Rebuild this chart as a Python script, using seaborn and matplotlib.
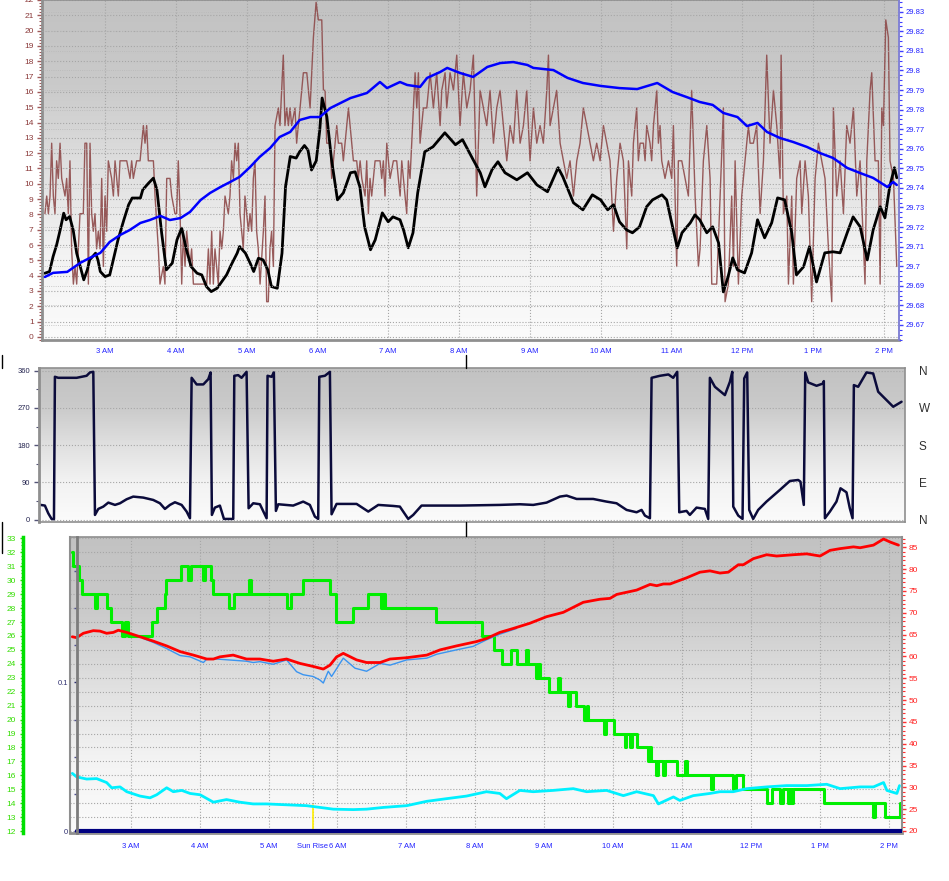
import numpy as np
import matplotlib
matplotlib.use("Agg")
import matplotlib.pyplot as plt
import seaborn as sns
from matplotlib.colors import LinearSegmentedColormap
from matplotlib.lines import Line2D
from matplotlib.ticker import MultipleLocator, FixedLocator, FixedFormatter, FuncFormatter

# times are minutes after midnight

## top panel: wind gust (mph), average wind (mph), barometer (inHg)
gust = [
    (129.1, 8.05), (130.6, 9.2), (132.0, 8.05), (133.4, 9.2), (134.8, 12.65), (136.2, 9.2), (137.6, 8.05),
    (139.0, 11.5), (140.4, 10.35), (141.9, 12.65), (143.3, 10.35), (146.1, 9.2), (147.5, 10.35), (148.9, 8.05),
    (150.3, 11.5), (151.7, 5.75), (153.2, 3.45), (154.6, 4.6), (156.0, 3.45), (157.4, 5.75), (158.8, 8.05),
    (161.6, 8.05), (163.0, 12.65), (164.5, 12.65), (165.9, 3.45), (167.3, 12.65), (168.7, 8.05), (170.1, 6.9),
    (171.5, 8.05), (172.9, 5.75), (174.3, 6.9), (175.8, 5.75), (177.2, 10.35), (178.6, 4.6), (180.0, 9.2),
    (181.4, 6.9), (182.8, 11.5), (185.6, 10.35), (187.1, 9.2), (188.5, 11.5), (189.9, 10.35), (191.3, 9.2),
    (192.7, 11.5), (198.4, 11.5), (201.2, 10.35), (202.6, 11.5), (204.0, 10.35), (206.8, 11.5), (209.7, 11.5),
    (211.1, 12.65), (212.5, 13.8), (213.9, 12.65), (215.3, 13.8), (216.7, 11.5), (221.0, 11.5), (222.4, 9.2),
    (225.2, 5.75), (226.6, 3.45), (229.4, 4.6), (230.8, 3.45), (232.3, 10.35), (235.1, 10.35), (236.5, 9.2),
    (239.3, 8.05), (240.7, 8.05), (242.1, 11.5), (243.6, 8.05), (245.0, 3.45), (246.4, 6.9), (247.8, 4.6),
    (249.2, 6.9), (250.6, 5.75), (252.0, 4.6), (253.4, 5.75), (254.9, 3.45), (266.2, 3.45), (267.6, 5.75),
    (269.0, 3.45), (270.4, 6.9), (271.8, 3.45), (273.2, 5.75), (276.0, 3.45), (277.5, 6.9), (278.9, 5.75),
    (280.3, 6.9), (281.7, 9.2), (284.5, 8.05), (285.9, 9.2), (287.3, 11.5), (288.8, 10.35), (290.2, 12.65),
    (291.6, 11.5), (293.0, 12.65), (294.4, 8.05), (295.8, 6.9), (297.2, 5.75), (298.6, 9.2), (300.1, 8.05),
    (301.5, 6.9), (302.9, 8.05), (304.3, 6.9), (305.7, 10.35), (307.1, 11.5), (308.5, 6.9), (309.9, 5.75),
    (311.4, 3.45), (314.2, 6.9), (315.6, 9.2), (317.0, 2.3), (318.4, 2.3), (319.8, 5.75), (321.2, 6.9),
    (322.7, 4.6), (324.1, 13.8), (326.9, 14.95), (328.3, 13.8), (329.7, 16.1), (331.1, 18.4), (332.5, 13.8),
    (334.0, 14.95), (335.4, 13.8), (336.8, 14.95), (338.2, 13.8), (341.0, 14.95), (342.4, 12.65), (343.8, 13.8),
    (345.3, 14.95), (348.1, 17.25), (351.0, 17.25), (353.8, 14.95), (356.6, 19.55), (358.9, 21.85), (360.8, 20.7),
    (363.7, 20.7), (365.1, 16.1), (366.5, 16.1), (367.9, 12.65), (370.7, 12.65), (372.1, 10.35), (373.6, 11.5),
    (376.4, 13.8), (377.8, 12.65), (380.6, 12.65), (382.0, 11.5), (384.9, 13.8), (386.3, 14.95), (387.7, 13.8),
    (390.5, 11.5), (393.3, 11.5), (394.7, 10.35), (396.2, 11.5), (397.6, 10.35), (400.4, 9.2), (401.8, 11.5),
    (403.2, 8.05), (404.6, 10.35), (406.0, 9.2), (408.9, 11.5), (413.1, 11.5), (414.5, 10.35), (415.9, 11.5),
    (417.3, 9.2), (418.8, 12.65), (420.2, 11.5), (421.6, 10.35), (424.4, 11.5), (427.2, 11.5), (428.6, 10.35),
    (430.1, 9.2), (431.5, 11.5), (432.9, 10.35), (435.7, 8.05), (437.1, 11.5), (438.5, 10.35), (442.8, 17.25),
    (444.2, 14.95), (445.6, 17.25), (447.0, 12.65), (448.4, 13.8), (449.8, 14.95), (452.7, 14.95), (455.5, 17.25),
    (458.3, 14.95), (461.1, 17.25), (464.0, 13.8), (465.4, 16.1), (468.2, 17.25), (469.6, 14.95), (472.4, 17.25),
    (475.3, 16.1), (478.1, 18.4), (480.9, 13.8), (483.7, 17.25), (486.6, 14.95), (489.4, 16.1), (492.2, 18.4),
    (495.0, 9.2), (497.9, 16.1), (500.7, 14.95), (503.5, 13.8), (506.3, 16.1), (509.2, 12.65), (512.0, 14.95),
    (514.8, 16.1), (517.6, 13.8), (520.5, 11.5), (523.3, 13.8), (526.1, 12.65), (528.9, 16.1), (531.8, 12.65),
    (534.6, 13.8), (537.4, 16.1), (540.2, 11.5), (543.1, 14.95), (545.9, 12.65), (548.7, 13.8), (551.5, 12.65),
    (554.4, 16.1), (555.8, 18.4), (557.2, 13.8), (560.0, 14.95), (562.8, 16.1), (565.7, 12.65), (568.5, 11.5),
    (571.3, 10.35), (574.1, 11.5), (577.0, 9.2), (579.8, 11.5), (582.6, 12.65), (585.4, 14.95), (588.3, 13.8),
    (591.1, 12.65), (593.9, 11.5), (596.7, 12.65), (599.6, 11.5), (602.4, 13.8), (605.2, 12.65), (608.0, 11.5),
    (610.9, 6.9), (613.7, 10.35), (616.5, 12.65), (619.3, 11.5), (622.2, 5.75), (623.6, 11.5), (626.4, 9.2),
    (627.8, 12.65), (630.6, 14.95), (632.0, 11.5), (633.5, 12.65), (636.3, 12.65), (637.7, 11.5), (639.1, 13.8),
    (641.9, 12.65), (643.3, 11.5), (644.8, 13.8), (647.6, 16.1), (649.0, 12.65), (650.4, 13.8), (651.8, 11.5),
    (654.6, 10.35), (657.5, 11.5), (660.3, 10.35), (661.7, 13.8), (664.5, 4.6), (665.9, 11.5), (668.8, 11.5),
    (671.6, 10.35), (674.4, 9.2), (677.2, 16.1), (680.1, 9.2), (682.9, 4.6), (684.3, 5.75), (687.1, 11.5),
    (690.0, 13.8), (692.8, 10.35), (694.2, 3.45), (698.4, 3.45), (701.3, 9.2), (704.1, 14.95), (705.5, 2.3),
    (708.3, 3.45), (711.1, 9.2), (712.6, 4.6), (714.0, 11.5), (716.8, 3.45), (719.6, 9.2), (722.4, 11.5),
    (725.3, 13.8), (726.7, 12.65), (729.5, 12.65), (732.3, 13.8), (735.2, 8.05), (738.0, 11.5), (740.8, 18.4),
    (743.6, 12.65), (746.5, 16.1), (749.3, 13.8), (752.1, 10.35), (753.0, 18.4), (754.9, 8.05), (757.8, 9.2),
    (759.2, 3.45), (762.0, 9.2), (763.4, 3.45), (766.2, 10.35), (769.1, 11.5), (770.5, 8.05), (773.3, 11.5),
    (776.1, 9.2), (778.9, 2.3), (781.8, 10.35), (784.6, 12.65), (787.4, 11.5), (790.2, 10.35), (793.1, 5.75),
    (795.9, 2.3), (797.3, 14.95), (800.1, 9.2), (803.0, 11.5), (805.8, 8.05), (808.6, 13.8), (811.4, 12.65),
    (814.3, 14.95), (817.1, 9.2), (819.9, 11.5), (824.1, 3.45), (825.6, 11.5), (828.4, 16.1), (829.8, 17.25),
    (832.6, 11.5), (835.4, 11.5), (836.9, 3.45), (838.3, 14.95), (839.7, 13.8), (841.7, 20.7), (843.9, 19.55),
    (845.3, 11.5), (848.2, 10.35), (851.0, 4.6),
]

wind = [
    (129, 4.16), (133, 4.27), (136, 5.25), (139, 6.01), (142, 6.99), (145, 8.08), (147, 7.65), (150, 7.86),
    (153, 6.99), (156, 5.47), (159, 4.59), (162, 3.73), (165, 4.38), (167, 5.03), (172, 5.47), (174, 5.03),
    (176, 4.27), (180, 3.94), (184, 4.05), (187, 5.03), (191, 6.34), (196, 7.65), (200, 8.63), (203, 9.07),
    (210, 9.07), (212, 9.61), (217, 10.05), (221, 10.37), (224, 9.61), (228, 6.78), (232, 4.38), (237, 4.82),
    (241, 6.34), (245, 7.10), (249, 5.69), (253, 4.59), (258, 4.16), (262, 4.05), (266, 3.29), (270, 2.96),
    (275, 3.18), (279, 3.61), (283, 4.05), (287, 4.71), (292, 5.47), (294, 5.90), (299, 5.47), (303, 4.82),
    (306, 4.27), (310, 5.14), (314, 5.03), (318, 4.38), (321, 3.29), (326, 3.18), (330, 5.47), (333, 9.82),
    (337, 11.78), (342, 11.68), (345, 12.1), (349, 12.5), (352, 12.2), (355, 10.9), (359, 11.5), (362, 13.5),
    (364, 15.6), (368, 14.38), (372, 11.57), (377, 8.95), (382, 9.41), (388, 10.72), (392, 10.78), (396, 9.80),
    (400, 7.19), (405, 5.69), (409, 6.34), (415, 8.10), (420, 7.52), (424, 7.84), (430, 7.65), (433, 6.99),
    (437, 5.82), (441, 6.80), (445, 9.41), (451, 12.09), (458, 12.42), (468, 13.33), (477, 12.55), (483, 12.88),
    (492, 11.57), (498, 10.72), (502, 9.80), (508, 10.92), (513, 11.44), (519, 10.72), (529, 10.26), (538, 10.72),
    (546, 9.93), (555, 9.48), (564, 11.05), (568, 10.46), (577, 8.76), (585, 8.30), (593, 9.28), (600, 8.95),
    (606, 8.30), (611, 8.63), (616, 7.52), (622, 6.99), (627, 6.80), (633, 7.19), (639, 8.50), (644, 8.95),
    (652, 9.28), (656, 8.95), (661, 7.19), (665, 5.82), (669, 6.80), (676, 7.45), (680, 7.97), (684, 7.65),
    (690, 6.80), (695, 7.19), (700, 6.14), (704, 2.94), (708, 3.92), (712, 5.16), (716, 4.38), (722, 4.18),
    (728, 5.49), (733, 7.65), (739, 6.47), (745, 7.45), (750, 9.08), (756, 8.95), (762, 6.80), (766, 4.05),
    (772, 4.58), (777, 5.88), (783, 3.59), (790, 5.49), (797, 5.56), (803, 5.49), (809, 6.80), (814, 7.84),
    (820, 7.19), (826, 5.03), (831, 6.99), (837, 8.50), (841, 7.78), (845, 9.80), (849, 11.05), (851, 10.39),
]

baro = [
    (129, 29.6945), (136, 29.6966), (148, 29.6971), (159, 29.7017), (167, 29.7042), (176, 29.7068),
    (184, 29.7124), (193, 29.7160), (201, 29.7185), (210, 29.7221), (218, 29.7236), (227, 29.7257),
    (235, 29.7236), (244, 29.7246), (252, 29.7277), (261, 29.7338), (269, 29.7374), (278, 29.7405),
    (286, 29.7430), (294, 29.7456), (303, 29.7507), (311, 29.7558), (320, 29.7604), (328, 29.7660),
    (337, 29.7686), (345, 29.7747), (354, 29.7762), (362, 29.7762), (371, 29.7808), (388, 29.7859),
    (402, 29.7885), (413, 29.7941), (419, 29.7910), (430, 29.7941), (436, 29.7926), (447, 29.7916),
    (453, 29.7962), (464, 29.7992), (470, 29.8013), (481, 29.7987), (492, 29.7967), (504, 29.8018),
    (515, 29.8038), (526, 29.8043), (538, 29.8028), (543, 29.8013), (560, 29.8002), (572, 29.7962),
    (585, 29.7936), (600, 29.7921), (616, 29.7910), (631, 29.7905), (648, 29.7936), (661, 29.7890),
    (673, 29.7864), (684, 29.7839), (695, 29.7824), (704, 29.7783), (716, 29.7762), (724, 29.7716),
    (733, 29.7732), (741, 29.7686), (752, 29.7655), (763, 29.7635), (775, 29.7609), (786, 29.7578),
    (797, 29.7553), (809, 29.7502), (820, 29.7476), (831, 29.7451), (843, 29.7405), (848, 29.7430),
    (851, 29.7415),
]

## middle panel: wind direction (degrees)
wind_dir = [
    (127.7, 35.6), (131.3, 34), (134.1, 15.4), (136.9, 1.7), (138.9, 1), (139.7, 345.5), (142.5, 343),
    (157.9, 343), (160.7, 344.7), (166.3, 347.9), (169.1, 356), (171.9, 357.5), (173.3, 11.4), (176.1, 25.9),
    (180.3, 31.5), (184.5, 41.2), (190.1, 35.6), (194.3, 39.6), (199.8, 49.2), (205.4, 55.7), (213.8, 53.3),
    (222.2, 47.6), (227.8, 39.6), (232.0, 25.9), (236.2, 35.6), (240.4, 42), (246.0, 35.6), (250.2, 19.5),
    (253.0, 3.3), (254.4, 343), (258.6, 327), (264.2, 327), (268.4, 339.8), (270.3, 356), (271.4, 11.4),
    (273.9, 29.1), (278.1, 34), (281.5, 1.7), (289.3, 1.7), (290.2, 347.9), (293.5, 349.5), (296.3, 343),
    (300.5, 357.5), (302.2, 27.5), (306.1, 39.6), (311.7, 37.2), (317.3, 3.3), (318.1, 347.9), (321.5, 345.5),
    (323.4, 356), (325.1, 21.1), (327.1, 37.2), (339.6, 34), (348.0, 43.6), (353.6, 35.6), (357.8, 7.4),
    (360.6, 1.7), (361.5, 345.5), (366.2, 347.9), (370.4, 357.5), (371.8, 13), (376.0, 38), (392.8, 38),
    (402.6, 19.5), (411.0, 35.6), (423.5, 33.1), (429.1, 31.5), (436.1, 1.7), (440.3, 11.4), (447.3, 34),
    (479.5, 34), (513.0, 35.6), (529.8, 37.2), (541.0, 35.6), (552.2, 41.2), (563.4, 55.7), (569.0, 58.1),
    (577.4, 50), (591.3, 50), (602.5, 43.6), (610.9, 39.6), (619.3, 23.5), (627.7, 17.8), (631.9, 23.5),
    (634.7, 9.8), (638.9, 3.3), (640.3, 343), (647.3, 347.9), (654.4, 351.1), (658.4, 343), (661.8, 357.5),
    (663.5, 17.8), (669.6, 21.1), (672.4, 11.4), (678.0, 29.1), (685.0, 25.9), (687.8, 1.7), (689.2, 343),
    (693.4, 321.3), (701.8, 301.2), (706.0, 333.4), (708.0, 357.5), (708.8, 31.5), (713.0, 9.8), (716.6, 1.7),
    (718.0, 341.5), (720.5, 356), (722.2, 23.5), (725.5, 1.7), (729.7, 23.5), (736.7, 43.6), (747.9, 71.8),
    (756.3, 93.5), (763.3, 95.9), (765.2, 91.9), (768.0, 35.6), (769.2, 356), (771.7, 331.8), (778.7, 323.7),
    (784.3, 329.4), (784.8, 335), (785.7, 3.3), (789.9, 19.5), (795.4, 43.6), (798.8, 75.8), (803.8, 66.1),
    (806.6, 27.5), (808.9, 3.3), (810.0, 325.4), (813.6, 321.3), (820.6, 356), (826.2, 353.5), (830.4, 309.3),
    (836.0, 293.2), (843.0, 273), (850.0, 285.1),
]

## bottom panel: green series (left scale, stepped), temperature, heat index, dew point, rain
green_steps = [
    (129.1, 32), (130.1, 31), (134.6, 30), (137.5, 29), (149.1, 28), (150.6, 29), (159.6, 28), (162.6, 27),
    (172.1, 26), (174.6, 27), (177.6, 26), (198.6, 27), (202.6, 28), (209.6, 29), (211.1, 30), (224.1, 31),
    (229.6, 30), (232.1, 31), (242.6, 30), (244.6, 31), (250.1, 30), (251.6, 29), (265.3, 28), (270.3, 29),
    (282.8, 30), (284.3, 29), (315.8, 28), (319.8, 29), (329.8, 30), (353.3, 29), (358.8, 27), (373.3, 28),
    (386.3, 29), (397.8, 28), (399.8, 29), (401.3, 28), (445.8, 27), (486.0, 26), (496.5, 25), (503.5, 24),
    (511.5, 25), (516.5, 24), (524.5, 25), (526.0, 24), (533.0, 23), (534.5, 24), (536.0, 23), (544.5, 22),
    (552.5, 23), (554.0, 22), (560.5, 21), (562.5, 22), (567.5, 21), (575.0, 20), (577.0, 21), (578.0, 20),
    (592.5, 19), (594.0, 20), (601.0, 19), (610.0, 18), (611.5, 19), (615.0, 18), (616.5, 19), (620.5, 18),
    (630.5, 17), (632.0, 18), (633.5, 17), (637.5, 16), (639.5, 17), (643.5, 16), (645.5, 17), (655.3, 16),
    (662.3, 17), (664.0, 16), (685.3, 15), (687.3, 16), (704.7, 15), (707.3, 16), (713.3, 15), (733.8, 14),
    (738.3, 15), (745.3, 14), (748.3, 15), (752.3, 14), (754.3, 15), (755.3, 14), (757.0, 15), (783.8, 14),
    (826.0, 13), (828.3, 14), (837.0, 13), (849.5, 14), (851.4, 14),
]

temperature = [
    (129.1, 64.5), (132.9, 64.3), (138.7, 65.3), (147.4, 65.9), (153.2, 65.8), (159.0, 65.3), (164.8, 65.5),
    (169.2, 66.0), (176.5, 65.5), (188.1, 64.5), (199.7, 63.5), (211.3, 62.4), (223.0, 61.1), (234.6, 60.3),
    (246.2, 59.4), (252.0, 59.4), (257.6, 59.9), (269.2, 60.3), (280.8, 59.4), (292.4, 59.4), (304.1, 58.9),
    (315.7, 59.4), (327.3, 58.4), (338.9, 57.7), (347.7, 57.1), (353.5, 58.0), (359.3, 59.9), (365.1, 60.7),
    (376.7, 59.2), (385.4, 58.6), (397.1, 58.6), (405.8, 59.4), (420.3, 59.7), (437.8, 60.3), (449.4, 61.5),
    (463.6, 62.4), (481.1, 63.4), (489.8, 64.1), (501.4, 65.5), (513.0, 66.4), (527.6, 67.6), (542.1, 69.1),
    (556.7, 70.1), (574.1, 72.4), (588.6, 73.1), (597.4, 73.3), (603.2, 74.2), (620.6, 75.2), (632.3, 76.5),
    (638.1, 76.2), (643.9, 76.6), (649.7, 76.6), (664.0, 78.0), (675.7, 79.3), (684.4, 79.6), (693.1, 79.1),
    (700.4, 79.3), (709.1, 81.0), (713.5, 81.0), (722.2, 82.4), (733.8, 83.3), (742.5, 83.0), (757.1, 83.3),
    (768.7, 83.5), (780.3, 83.0), (789.0, 84.3), (797.8, 84.7), (809.4, 85.1), (815.2, 84.9), (826.8, 85.5),
    (835.6, 86.9), (841.4, 86.2), (848.6, 85.5),
]

heat_index = [
    (191.0, 64.1), (199.7, 63.2), (211.3, 61.8), (223.0, 60.2), (231.7, 59.9), (243.3, 58.6), (246.2, 59.4),
    (254.6, 59.4), (280.8, 58.9), (286.6, 58.6), (292.4, 58.8), (304.1, 58.2), (315.7, 59.2), (324.4, 56.5),
    (330.2, 55.8), (338.9, 55.4), (344.7, 54.6), (347.7, 53.9), (352.0, 56.6), (354.9, 55.4), (365.1, 59.6),
    (375.3, 57.3), (385.4, 56.6), (397.1, 58.4), (405.8, 58.0), (420.3, 59.2), (437.8, 59.6), (446.5, 60.5),
    (463.6, 61.5), (478.2, 62.3), (489.8, 63.8), (501.4, 65.1), (516.0, 66.4),
]

dew_point = [
    (129.1, 33.2), (132.9, 32.4), (141.6, 31.9), (150.3, 32.0), (159.0, 31.1), (163.4, 29.9), (170.7, 30.1),
    (176.5, 29.0), (188.1, 28.0), (196.8, 27.6), (202.6, 28.3), (211.3, 29.9), (217.1, 29.0), (224.4, 29.3),
    (231.7, 28.6), (240.4, 28.3), (252.0, 26.6), (263.4, 27.2), (275.0, 26.6), (286.6, 26.2), (298.3, 26.2),
    (315.7, 26.0), (333.1, 25.8), (344.8, 25.4), (356.4, 25.0), (373.8, 24.9), (385.4, 25.0), (400.0, 25.4),
    (420.3, 25.8), (437.8, 26.8), (454.9, 27.4), (472.4, 28.0), (489.8, 29.0), (501.4, 28.6), (507.2, 27.4),
    (518.9, 29.3), (530.5, 29.0), (547.9, 29.3), (565.4, 29.7), (577.0, 29.0), (594.4, 29.3), (609.0, 28.1),
    (620.6, 29.0), (635.2, 28.1), (639.5, 26.2), (652.6, 27.8), (658.2, 27.0), (669.9, 28.1), (684.4, 28.6),
    (693.1, 29.0), (704.7, 29.0), (716.4, 29.7), (733.8, 30.1), (751.3, 30.4), (768.7, 30.4), (786.1, 30.7),
    (797.8, 29.7), (815.2, 30.1), (826.8, 30.1), (835.6, 31.1), (838.5, 29.3), (847.2, 28.6), (849.5, 30.4),
]

rain = [(133.2, 0.0), (851.4, 0.0)]
sunrise = 338.7

hour_ticks = [180, 240, 300, 360, 420, 480, 540, 600, 660, 720, 780, 840]
hour_labels = ["3 AM", "4 AM", "5 AM", "6 AM", "7 AM", "8 AM", "9 AM", "10 AM", "11 AM", "12 PM", "1 PM", "2 PM"]
dir_ticks = [0, 90, 180, 270, 360]
dir_labels = ["N", "E", "S", "W", "N"]

sns.set_style("white")
plt.rcParams["font.family"] = ["Liberation Sans", "DejaVu Sans"]

W, H = 949, 881
fig = plt.figure(figsize=(W / 100, H / 100), dpi=100)


def px_box(left, top, right, bottom):
    return [left / W, 1 - bottom / H, (right - left) / W, (bottom - top) / H]


bg_cmap = LinearSegmentedColormap.from_list(
    "panel_bg", ["#fbfbfb", "#f3f3f3", "#e0e0e0", "#cacaca", "#c2c2c2"])


def add_background(ax):
    x0, x1 = ax.get_xlim()
    y0, y1 = ax.get_ylim()
    ax.imshow(np.linspace(0, 1, 256).reshape(-1, 1), cmap=bg_cmap, origin="lower",
              extent=[x0, x1, y0, y1], aspect="auto", zorder=-5, interpolation="bilinear")
    ax.set_xlim(x0, x1)
    ax.set_ylim(y0, y1)


def draw(ax, pairs, color, lw, **kw):
    xs, ys = zip(*pairs)
    sns.lineplot(x=list(xs), y=list(ys), ax=ax, color=color, linewidth=lw,
                 estimator=None, sort=False, legend=False, **kw)
    ax.set_xlabel("")
    ax.set_ylabel("")


grid_kw = dict(color="#a6a6a6", linestyle=":", linewidth=0.8)

# ---- top panel
ax1 = fig.add_axes(px_box(42, 0, 899, 340))
draw(ax1, gust, "#8e4a4a", 1.0, alpha=0.9)
draw(ax1, wind, "black", 2.0)
ax1.set_xlim(126.6, 852.9)
ax1.set_ylim(-0.2, 22)
add_background(ax1)
ax1.set_axisbelow(True)
ax1.grid(True, which="major", **grid_kw)

ax1b = ax1.twinx()
ax1b.grid(True, axis="y", color="#b8b8b8", linestyle=":", linewidth=0.6)
draw(ax1b, baro, "#0000ff", 1.8)
ax1b.set_ylim(29.6623, 29.836)

ax1.xaxis.set_major_locator(FixedLocator(hour_ticks))
ax1.xaxis.set_major_formatter(FixedFormatter(hour_labels))
ax1.xaxis.set_minor_locator(MultipleLocator(15))
ax1.tick_params(axis="x", which="major", length=3.5, width=1, color="#8c8c8c",
                labelcolor="#2222ff", labelsize=5.5, pad=2.5)
ax1.tick_params(axis="x", which="minor", length=2, width=1, color="#8c8c8c")
ax1.yaxis.set_major_locator(MultipleLocator(1))
ax1.yaxis.set_minor_locator(MultipleLocator(0.2))
ax1.tick_params(axis="y", which="major", length=3.5, width=1, color="#a05a5a",
                labelcolor="#8b3a3a", labelsize=6, pad=2.5)
ax1.tick_params(axis="y", which="minor", length=2, width=0.8, color="#a05a5a")
ax1b.yaxis.set_major_locator(MultipleLocator(0.01))
ax1b.yaxis.set_minor_locator(MultipleLocator(0.0025))
ax1b.yaxis.set_major_formatter(FuncFormatter(lambda v, p: f"{v:g}"))
ax1b.tick_params(axis="y", which="major", length=3, width=1, color="#4040ff",
                 labelcolor="#2222ff", labelsize=5.5, pad=2)
ax1b.tick_params(axis="y", which="minor", length=2, width=0.8, color="#4040ff")
for name, sp in ax1.spines.items():
    sp.set_color("#8f8f8f")
    sp.set_linewidth(2 if name in ("left", "bottom") else 1.2)
for name, sp in ax1b.spines.items():
    sp.set_visible(name == "right")
ax1b.spines["right"].set_color("#8080e0")
ax1b.spines["right"].set_linewidth(1.2)

# ---- middle panel
ax2 = fig.add_axes(px_box(39.3, 368.3, 905, 521.7))
draw(ax2, wind_dir, "#0b0b3b", 1.8)
ax2.set_xlim(126.6, 852.9)
ax2.set_ylim(-5, 366)
add_background(ax2)
ax2.set_axisbelow(True)
ax2.set_yticks(dir_ticks)
ax2.yaxis.set_minor_locator(MultipleLocator(45))
ax2.grid(True, axis="y", **grid_kw)
ax2.tick_params(axis="x", which="both", bottom=False, labelbottom=False)
ax2.tick_params(axis="y", which="major", length=3.5, width=1, color="#555577",
                labelcolor="#252550", labelsize=5.5, pad=3)
ax2.tick_params(axis="y", which="minor", length=2, width=0.8, color="#555577")
for name, sp in ax2.spines.items():
    sp.set_color("#8f8f8f")
    sp.set_linewidth(2 if name == "left" else 1.2)

ax2b = ax2.twinx()
ax2b.set_ylim(-5, 366)
ax2b.set_yticks(dir_ticks, dir_labels)
ax2b.tick_params(axis="y", length=0, labelsize=8.5, labelcolor="#303030", pad=10)
for sp in ax2b.spines.values():
    sp.set_visible(False)

# ---- bottom panel
ax3 = fig.add_axes(px_box(70, 536.7, 901.7, 833.3))
draw(ax3, green_steps, "#00ee00", 2.2, drawstyle="steps-post")
ax3.set_xlim(127.1, 851.4)
ax3.set_ylim(11.84, 33.12)
add_background(ax3)
ax3.set_axisbelow(True)
bot_ticks = hour_ticks[:3] + [sunrise] + hour_ticks[3:]
bot_labels = hour_labels[:3] + ["Sun Rise"] + hour_labels[3:]
ax3.xaxis.set_major_locator(FixedLocator(bot_ticks))
ax3.xaxis.set_major_formatter(FixedFormatter(bot_labels))
ax3.xaxis.set_minor_locator(MultipleLocator(15))
ax3.yaxis.set_major_locator(MultipleLocator(1))
ax3.yaxis.set_minor_locator(MultipleLocator(0.25))
ax3.grid(True, which="major", **grid_kw)
ax3.axvline(sunrise, ymin=0, ymax=0.095, color="#ffee00", linewidth=1.2, zorder=1)
ax3.tick_params(axis="x", which="major", length=3.5, width=1, color="#8c8c8c",
                labelcolor="#2222ff", labelsize=5.5, pad=3.5)
ax3.tick_params(axis="x", which="minor", length=2, width=1, color="#8c8c8c")
ax3.tick_params(axis="y", which="major", length=2.5, width=1, color="#22dd00",
                labelcolor="#33dd00", labelsize=6, pad=2.5)
ax3.tick_params(axis="y", which="minor", length=1.8, width=0.8, color="#22dd00")
ax3.spines["left"].set_position(("axes", (22.7 - 70) / 831.7))
ax3.spines["left"].set_color("#00e000")
ax3.spines["left"].set_linewidth(2.5)
ax3.spines["right"].set_visible(False)
for name in ("top", "bottom"):
    ax3.spines[name].set_color("#8f8f8f")
    ax3.spines[name].set_linewidth(2 if name == "bottom" else 1.2)

ax3r = ax3.twinx()
draw(ax3r, dew_point, "#00f0ff", 2.0)
draw(ax3r, heat_index, "#3a94f0", 1.0)
draw(ax3r, temperature, "#ff0000", 2.0)
ax3r.set_ylim(19.47, 87.43)
ax3r.yaxis.set_major_locator(MultipleLocator(5))
ax3r.yaxis.set_minor_locator(MultipleLocator(1))
ax3r.tick_params(axis="y", which="major", length=3, width=1, color="#ff3030",
                 labelcolor="#ff2020", labelsize=6, pad=2)
ax3r.tick_params(axis="y", which="minor", length=1.8, width=0.8, color="#ff3030")
for name, sp in ax3r.spines.items():
    sp.set_visible(name in ("left", "right"))
    sp.set_color("#8f8f8f")
    sp.set_linewidth(1.5)

ax3rain = ax3.twinx()
draw(ax3rain, rain, "#000080", 3.0)
ax3rain.set_ylim(-0.0015, 0.198)
ax3rain.yaxis.tick_left()
ax3rain.set_yticks([0, 0.1], ["0", "0.1"])
ax3rain.yaxis.set_minor_locator(MultipleLocator(0.025))
ax3rain.tick_params(axis="y", which="major", length=2.5, width=1, color="#303070",
                    labelcolor="#303070", labelsize=5.5, pad=4)
ax3rain.tick_params(axis="y", which="minor", length=2.5, width=1, color="#505090")
for name, sp in ax3rain.spines.items():
    sp.set_visible(name == "left")
ax3rain.spines["left"].set_position(("axes", (77 - 70) / 831.7))
ax3rain.spines["left"].set_color("#7c7c7c")
ax3rain.spines["left"].set_linewidth(2)

# cursor marks between the panels
for x, y0, y1 in [(1.5, 355, 368), (465.7, 355, 368), (1.5, 522, 553), (465.7, 522, 536)]:
    fig.add_artist(Line2D([x / W, x / W], [1 - y0 / H, 1 - y1 / H],
                          transform=fig.transFigure, color="black", linewidth=1))

fig.savefig("out.png", dpi=100)
